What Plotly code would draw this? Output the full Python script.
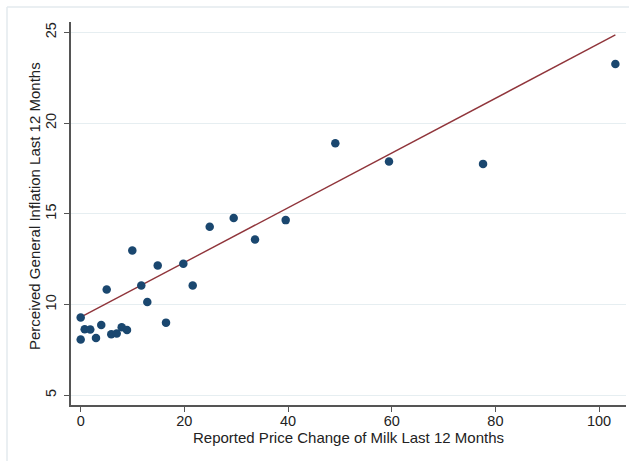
import plotly.graph_objects as go

# Reported price change of milk (x) vs perceived general inflation (y)
milk_change = [0.0, 0.77, 1.85, 0.0, 2.95, 3.97, 5.02, 5.90, 6.95, 7.91, 8.93,
               9.96, 11.69, 12.85, 14.86, 16.46, 19.80, 21.61, 24.89, 29.52,
               33.63, 39.55, 49.12, 59.48, 77.62, 103.15]
perceived_inflation = [9.28, 8.63, 8.62, 8.07, 8.15, 8.87, 10.82, 8.36, 8.40, 8.75, 8.60,
                       12.98, 11.05, 10.14, 12.15, 9.00, 12.24, 11.05, 14.28, 14.77,
                       13.58, 14.65, 18.89, 17.88, 17.75, 23.25]

# Fitted line (weighted fit in the original)
fit_intercept = 9.30
fit_slope = 0.1508

x_ticks = [0, 20, 40, 60, 80, 100]
y_ticks = [5, 10, 15, 20, 25]

x_title = "Reported Price Change of Milk Last 12 Months"
y_title = "Perceived General Inflation Last 12 Months"

fit_x = [min(milk_change), max(milk_change)]
fit_y = [fit_intercept + fit_slope * v for v in fit_x]

font_family = "Liberation Sans, Arial, sans-serif"
text_color = "#222222"

# plot area in pixels
L, R, T, B = 71, 3, 22, 56
W, H = 629, 461
pw, ph = W - L - R, H - T - B

fig = go.Figure()
fig.add_trace(go.Scatter(
    x=fit_x, y=fit_y, mode="lines",
    line=dict(color="#90353b", width=1.4),
    showlegend=False, hoverinfo="skip"))
fig.add_trace(go.Scatter(
    x=milk_change, y=perceived_inflation, mode="markers",
    marker=dict(color="#1a476f", size=8.5, line=dict(width=0)),
    showlegend=False, hoverinfo="skip"))

axis_common = dict(
    showline=True, linecolor="#555555", linewidth=1.5,
    ticks="outside", ticklen=5, tickwidth=1, tickcolor="#555555",
    tickfont=dict(family=font_family, size=14.5, color=text_color),
    zeroline=False, mirror=False, automargin=False,
)

fig.update_xaxes(range=[-1.87, 105.2], tickvals=x_ticks, showgrid=False,
                 ticklabelstandoff=-3, **axis_common)
fig.update_yaxes(range=[4.46, 25.57], tickvals=y_ticks, showgrid=True,
                 gridcolor="#e6eef1", gridwidth=1,
                 tickangle=-90, ticklabelstandoff=2, **axis_common)

# axis titles
fig.add_annotation(text=x_title, xref="paper", yref="paper",
                   x=(348.5 - L) / pw, y=(H - B - 437.5) / ph,
                   xanchor="center", yanchor="middle", showarrow=False,
                   font=dict(family=font_family, size=15, color=text_color))
fig.add_annotation(text=y_title, xref="paper", yref="paper",
                   x=(35 - L) / pw, y=(H - B - 206) / ph, textangle=-90,
                   xanchor="center", yanchor="middle", showarrow=False,
                   font=dict(family=font_family, size=15, color=text_color))

# light outer graph-region border (top and left)
bx = (7 - L) / pw
by = 1 + (T - 7) / ph
fig.add_shape(type="line", xref="paper", yref="paper",
              x0=bx, x1=1.1, y0=by, y1=by,
              line=dict(color="#e3eaee", width=1.5))
fig.add_shape(type="line", xref="paper", yref="paper",
              x0=bx, x1=bx, y0=by, y1=-0.3,
              line=dict(color="#e3eaee", width=1.5))

fig.update_layout(
    template="none",
    width=W, height=H,
    margin=dict(l=L, r=R, t=T, b=B),
    plot_bgcolor="white", paper_bgcolor="white",
    font=dict(family=font_family),
)

fig.write_html("out.html", config={"displayModeBar": False},
               post_script="document.body.style.margin='0';")
